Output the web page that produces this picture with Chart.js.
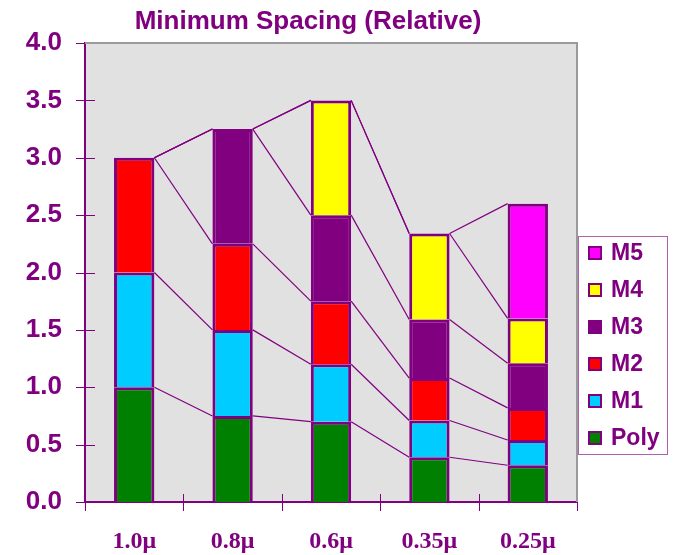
<!DOCTYPE html>
<html>
<head>
<meta charset="utf-8">
<script src="https://cdn.jsdelivr.net/npm/chart.js@4/dist/chart.umd.min.js"></script>
<style>
  html, body { margin: 0; padding: 0; background: #ffffff; }
  #wrap { width: 677px; height: 555px; position: relative; }
</style>
</head>
<body>
<div id="wrap"><canvas id="chart"></canvas></div>
<script>
// Technology nodes along the x axis
const categories = ['1.0\u03bc', '0.8\u03bc', '0.6\u03bc', '0.35\u03bc', '0.25\u03bc'];

// Minimum spacing of each layer, relative (stacked from the bottom up)
const poly = [1.00, 0.75, 0.70, 0.39, 0.32];
const m1   = [1.00, 0.75, 0.50, 0.32, 0.22];
const m2   = [1.00, 0.75, 0.55, 0.37, 0.28];
const m3   = [0.00, 1.00, 0.75, 0.51, 0.39];
const m4   = [0.00, 0.00, 1.00, 0.75, 0.39];
const m5   = [0.00, 0.00, 0.00, 0.00, 1.00];

const seriesNames = ['Poly', 'M1', 'M2', 'M3', 'M4', 'M5'];
const yTickLabels = ['0.0', '0.5', '1.0', '1.5', '2.0', '2.5', '3.0', '3.5', '4.0'];

const PURPLE = '#800080';
const fills = ['#008000', '#00CCFF', '#FF0000', '#800080', '#FFFF00', '#FF00FF'];
const SANS = "'Liberation Sans', Arial, sans-serif";
const SERIF = "'Liberation Serif', 'Times New Roman', serif";

const seriesValues = [poly, m1, m2, m3, m4, m5];

const datasets = seriesNames.map((name, i) => ({
  label: name,
  data: seriesValues[i],
  backgroundColor: fills[i],
  borderColor: PURPLE,
  borderWidth: 3,
  borderSkipped: 'start',
  categoryPercentage: 1.0,
  barPercentage: 0.41
}));

// Gray plot background plus the gray top/right frame
const plotFrame = {
  id: 'plotFrame',
  beforeDraw(chart) {
    const { ctx, chartArea: a } = chart;
    ctx.save();
    ctx.fillStyle = '#E1E1E1';
    ctx.fillRect(a.left, a.top, a.right - a.left, a.bottom - a.top);
    ctx.restore();
  },
  afterDraw(chart) {
    const { ctx, chartArea: a } = chart;
    ctx.save();
    ctx.strokeStyle = '#9A9A9A';
    ctx.lineWidth = 2;
    ctx.beginPath();
    ctx.moveTo(a.left, a.top);
    ctx.lineTo(a.right, a.top);
    ctx.lineTo(a.right, a.bottom);
    ctx.stroke();
    ctx.restore();
  }
};

// Series lines joining the top of each segment to the same segment in the next bar
const seriesLines = {
  id: 'seriesLines',
  beforeDatasetsDraw(chart) {
    const { ctx } = chart;
    ctx.save();
    ctx.strokeStyle = PURPLE;
    ctx.lineWidth = 1.2;
    chart.data.datasets.forEach((ds, di) => {
      const bars = chart.getDatasetMeta(di).data;
      for (let i = 0; i < bars.length - 1; i++) {
        const a = bars[i], b = bars[i + 1];
        ctx.beginPath();
        ctx.moveTo(a.x + a.width / 2, a.y);
        ctx.lineTo(b.x - b.width / 2, b.y);
        ctx.stroke();
      }
    });
    ctx.restore();
  }
};

// Tick marks that cross the axes
const crossTicks = {
  id: 'crossTicks',
  afterDatasetsDraw(chart) {
    const { ctx, chartArea: a } = chart;
    const ys = chart.scales.y;
    ctx.save();
    ctx.strokeStyle = PURPLE;
    ctx.lineWidth = 1;
    ctx.beginPath();
    yTickLabels.forEach((t) => {
      const y = Math.round(ys.getPixelForValue(parseFloat(t))) + 0.5;
      ctx.moveTo(a.left - 9, y);
      ctx.lineTo(a.left + 10, y);
    });
    const n = categories.length;
    for (let i = 0; i <= n; i++) {
      const x = Math.round(a.left + i * (a.right - a.left) / n) + 0.5;
      ctx.moveTo(x, a.bottom - 8);
      ctx.lineTo(x, a.bottom + 9);
    }
    ctx.stroke();
    ctx.restore();
  }
};

// Title centred above the plot
const titleText = {
  id: 'titleText',
  afterDraw(chart) {
    const { ctx } = chart;
    ctx.save();
    ctx.fillStyle = PURPLE;
    ctx.font = 'bold 26px ' + SANS;
    ctx.textAlign = 'center';
    ctx.textBaseline = 'alphabetic';
    ctx.fillText('Minimum Spacing (Relative)', 308, 29);
    ctx.restore();
  }
};

// Boxed legend at the right, top layer first
const sideLegend = {
  id: 'sideLegend',
  afterDraw(chart) {
    const { ctx } = chart;
    const box = { x: 578.5, y: 236.5, w: 89, h: 218 };
    ctx.save();
    ctx.fillStyle = '#FFFFFF';
    ctx.fillRect(box.x, box.y, box.w, box.h);
    ctx.strokeStyle = '#B060B0';
    ctx.lineWidth = 1;
    ctx.strokeRect(box.x, box.y, box.w, box.h);
    ctx.font = 'bold 23px ' + SANS;
    ctx.textBaseline = 'middle';
    ctx.textAlign = 'left';
    const order = seriesNames.map((_, i) => i).reverse();
    order.forEach((si, row) => {
      const cy = 253 + row * 37;
      ctx.fillStyle = PURPLE;
      ctx.fillRect(588, cy - 7, 14, 14);
      ctx.fillStyle = fills[si];
      ctx.fillRect(590, cy - 5, 10, 10);
      ctx.fillStyle = PURPLE;
      ctx.fillText(seriesNames[si], 611, cy + 1);
    });
    ctx.restore();
  }
};

new Chart(document.getElementById('chart'), {
  type: 'bar',
  data: { labels: categories, datasets },
  options: {
    responsive: true,
    maintainAspectRatio: false,
    animation: false,
    devicePixelRatio: 1,
    layout: { padding: { top: 43, right: 100, left: 0, bottom: 0 } },
    plugins: {
      legend: { display: false },
      title: { display: false },
      tooltip: { enabled: false }
    },
    scales: {
      x: {
        stacked: true,
        grid: { display: false, drawTicks: false },
        border: { display: true, color: PURPLE, width: 2 },
        ticks: {
          color: PURPLE,
          font: { family: SERIF, size: 24, weight: 'bold' },
          padding: 25,
          maxRotation: 0
        },
        afterFit(s) { s.height = 53; }
      },
      y: {
        stacked: true,
        min: 0,
        max: 4,
        grid: { display: false, drawTicks: false },
        border: { display: true, color: PURPLE, width: 2 },
        ticks: {
          stepSize: 0.5,
          color: PURPLE,
          font: { family: SANS, size: 26, weight: 'bold' },
          padding: 23,
          callback: (v, i) => yTickLabels[i]
        },
        afterFit(s) { s.width = 85; }
      }
    }
  },
  plugins: [plotFrame, seriesLines, crossTicks, titleText, sideLegend]
});
</script>
</body>
</html>
